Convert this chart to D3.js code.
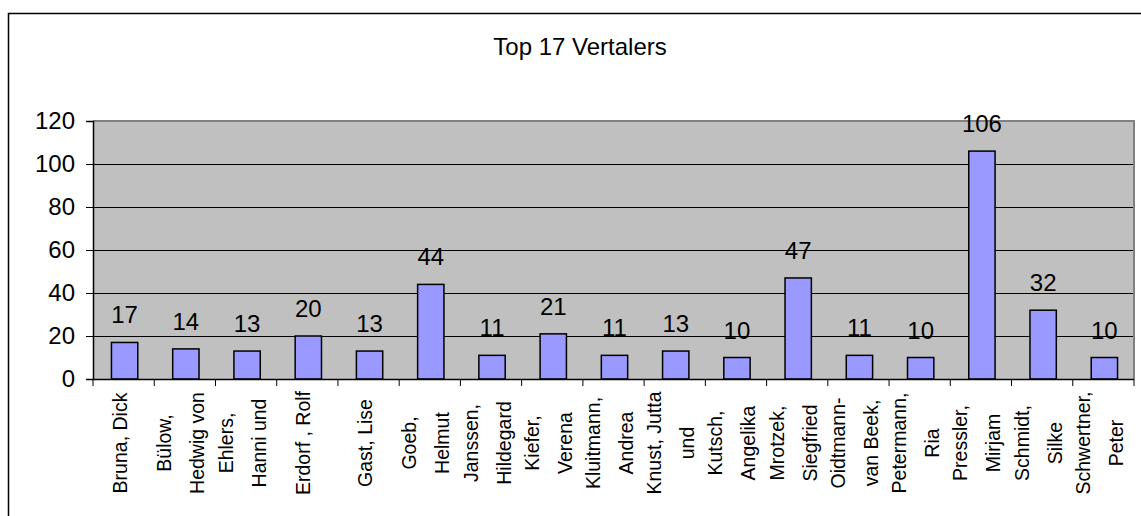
<!DOCTYPE html>
<html>
<head>
<meta charset="utf-8">
<script src="https://cdn.jsdelivr.net/npm/d3@7"></script>
<style>
  html, body { margin: 0; padding: 0; background: #fff; }
  svg { display: block; font-family: "Liberation Sans", Arial, sans-serif; }
</style>
</head>
<body>
<svg id="chart" width="1141" height="516"></svg>
<script>
const title = "Top 17 Vertalers";
const categories = [
  ["Bruna,  Dick"],
  ["Bülow,", "Hedwig von"],
  ["Ehlers,", "Hanni und"],
  ["Erdorf , Rolf"],
  ["Gast, Lise"],
  ["Goeb,", "Helmut"],
  ["Janssen,", "Hildegard"],
  ["Kiefer,", "Verena"],
  ["Kluitmann,", "Andrea"],
  ["Knust, Jutta", "und"],
  ["Kutsch,", "Angelika"],
  ["Mrotzek,", "Siegfried"],
  ["Oidtmann-", "van Beek,"],
  ["Petermann,", "Ria"],
  ["Pressler,", "Mirjam"],
  ["Schmidt,", "Silke"],
  ["Schwertner,", "Peter"]
];
const values = [17, 14, 13, 20, 13, 44, 11, 21, 11, 13, 10, 47, 11, 10, 106, 32, 10];
const yTicks = [0, 20, 40, 60, 80, 100, 120];

(function () {
const svg = d3.select("#chart");
const W = 1141, H = 516;
const pL = 93, pR = 1134, pT = 121, pB = 379;

svg.append("rect").attr("width", W).attr("height", H).attr("fill", "#fff");
// outer chart border
svg.append("rect").attr("x", 8.5).attr("y", 13.5).attr("width", W).attr("height", H)
  .attr("fill", "none").attr("stroke", "#000").attr("stroke-width", 1.5);

svg.append("text").attr("x", 580).attr("y", 46).attr("text-anchor", "middle")
  .attr("dominant-baseline", "central").attr("font-size", 24).text(title);

const idx = d3.range(categories.length);
const x = d3.scaleBand().domain(idx).range([pL, pR]).padding(0);
const y = d3.scaleLinear().domain([0, 120]).range([pB, pT]);

// plot area
svg.append("rect").attr("x", pL).attr("y", pT).attr("width", pR - pL).attr("height", pB - pT)
  .attr("fill", "#C0C0C0");
// gridlines
svg.append("g").selectAll("line").data(yTicks.filter(d => d > 0)).join("line")
  .attr("x1", pL).attr("x2", pR).attr("y1", d => Math.round(y(d)) + 0.5).attr("y2", d => Math.round(y(d)) + 0.5)
  .attr("stroke", "#000").attr("stroke-width", 1);
// plot border top/right gray
svg.append("path").attr("d", `M${pL},${pT} H${pR} V${pB}`)
  .attr("fill", "none").attr("stroke", "#808080").attr("stroke-width", 2);

// bars
const bw = x.bandwidth() * 0.43;
svg.append("g").selectAll("rect").data(values).join("rect")
  .attr("x", (d, i) => x(i) + (x.bandwidth() - bw) / 2 + 1)
  .attr("y", d => y(d))
  .attr("width", bw)
  .attr("height", d => pB - y(d))
  .attr("fill", "#9999FF").attr("stroke", "#000").attr("stroke-width", 1.5);

// value labels
svg.append("g").selectAll("text").data(values).join("text")
  .attr("x", (d, i) => x(i) + x.bandwidth() / 2 + 1)
  .attr("y", d => y(d) - 19)
  .attr("text-anchor", "middle").attr("font-size", 24).text(d => d);

// y axis
const yAxis = d3.axisLeft(y).tickValues(yTicks).tickSize(7).tickPadding(11);
const ga = svg.append("g").attr("transform", `translate(${pL},0)`).call(yAxis);
ga.select(".domain").attr("stroke", "#000").attr("stroke-width", 1.5);
ga.selectAll(".tick line").attr("stroke", "#000");
ga.selectAll(".tick text").attr("font-size", 24).attr("fill", "#000")
  .attr("font-family", "Liberation Sans, Arial, sans-serif");

// x axis
const xb = svg.append("g");
xb.append("line").attr("x1", pL).attr("x2", pR).attr("y1", pB + 0.5).attr("y2", pB + 0.5)
  .attr("stroke", "#000").attr("stroke-width", 1.5);
const bounds = idx.map(i => x(i)).concat([pR]);
xb.selectAll("line.tk").data(bounds).join("line").attr("class", "tk")
  .attr("x1", d => d).attr("x2", d => d).attr("y1", pB).attr("y2", pB + 7)
  .attr("stroke", "#000").attr("stroke-width", 1);

// x labels (rotated)
const lg = svg.append("g");
categories.forEach((lines, i) => {
  const cx = x(i) + x.bandwidth() / 2 - 4;
  lines.forEach((ln, j) => {
    const px = cx + (j - (lines.length - 1) / 2) * 33;
    lg.append("text")
      .attr("transform", `translate(${px},443) rotate(-90)`)
      .attr("text-anchor", "middle").attr("dominant-baseline", "central")
      .attr("font-size", 19.5).text(ln);
  });
});
})();
</script>
</body>
</html>
